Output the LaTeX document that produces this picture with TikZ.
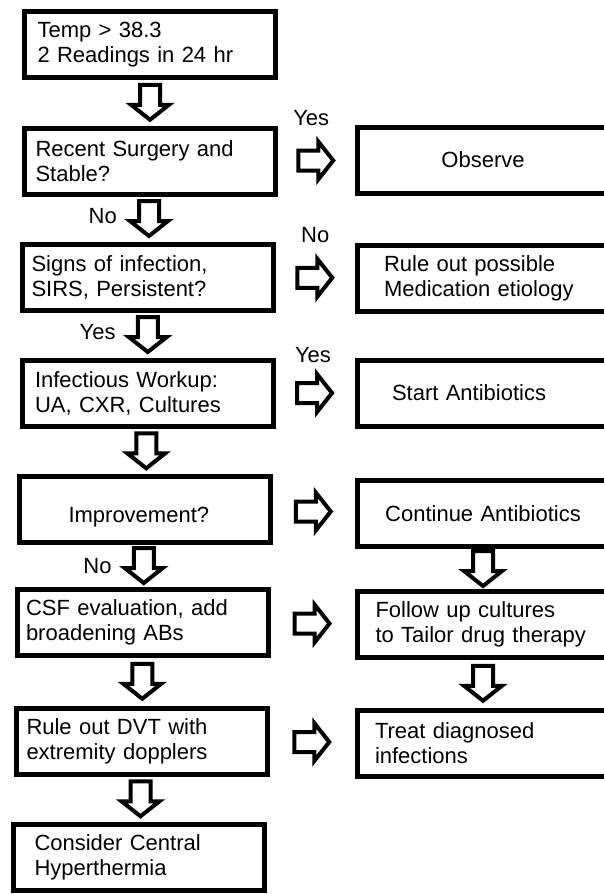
\documentclass[tikz,border=0pt]{standalone}
\usepackage{fontspec}
\setmainfont{Liberation Sans}
\usetikzlibrary{calc}

\newcommand{\boxfont}{\fontsize{22pt}{25pt}\selectfont}

% block arrow pointing down, between two nodes
\newcommand{\dnarrow}[2]{%
    \coordinate (#1-#2) at ($(#1.south)!0.5!(#2.north)$);
    \draw[blockarrow, shift={(#1-#2)}] (-10,-18) -- (10,-18) -- (10,2) -- (19,2) -- (0,17) -- (-19,2) -- (-10,2) -- cycle;
}
% block arrow pointing right, between two nodes
\newcommand{\rtarrow}[2]{%
    \coordinate (#1-#2) at ($(#1.east)!0.5!(#2.west)$);
    \draw[blockarrow, shift={(#1-#2)}] (-18,-10) -- (2,-10) -- (2,-19) -- (17,0) -- (2,19) -- (2,10) -- (-18,10) -- cycle;
}

\begin{document}
\begin{tikzpicture}[x=1pt, y=-1pt,
    lbox/.style={draw, line width=5pt, minimum width=251pt, minimum height=66pt, inner sep=0pt, align=left, text width=#1, font=\boxfont},
    lbox/.default=225pt,
    rbox/.style={draw, line width=5pt, minimum width=252pt, minimum height=66pt, inner sep=0pt, align=left, text width=#1, font=\boxfont},
    blockarrow/.style={draw, fill=white, line width=4pt, line join=miter},
    lbl/.style={inner sep=0pt, font=\boxfont}]

            \useasboundingbox (0,0) rectangle (603,894);

            % left column
            \node[lbox] (temp) at (150,44.5) {Temp > 38.3\\2 Readings in 24 hr};
            \node[lbox=229pt] (surg) at (150,161) {Recent Surgery and\\Stable?};
            \node[lbox=233pt] (sign) at (148,277) {Signs of infection,\\SIRS, Persistent?};
            \node[lbox] (work) at (147.5,393) {Infectious Workup:\\UA, CXR, Cultures};
            \node[lbox=153pt, text height=25pt, text depth=0pt] (impr) at (145,509.5) {Improvement?};
            \node[lbox=233pt] (csf) at (142.5,622.5) {CSF evaluation, add\\broadening ABs};
            \node[lbox=231pt] (dvt) at (142,741) {Rule out DVT with\\extremity dopplers};
            \node[lbox=209pt] (cent) at (139,857.5) {Consider Central\\Hyperthermia};

            % right column
            \node[rbox=240pt, align=center] (obs) at (483,160) {Observe};
            \node[rbox=198pt] (med) at (483,278.5) {Rule out possible\\Medication etiology};
            \node[rbox=182pt] (start) at (483,393) {Start Antibiotics};
            \node[rbox=240pt, align=center] (cont) at (483,513.5) {Continue Antibiotics};
            \node[rbox=215pt] (foll) at (483,624.5) {Follow up cultures\\to Tailor drug therapy};
            \node[rbox=216pt] (treat) at (483,743) {Treat diagnosed\\infections};

            \foreach \a/\b in {temp/surg, surg/sign, sign/work, work/impr, impr/csf, csf/dvt, dvt/cent, cont/foll, foll/treat}
            {
                \dnarrow{\a}{\b}
            }
            \foreach \a/\b in {surg/obs, sign/med, work/start, impr/cont, csf/foll, dvt/treat}
            {
                \rtarrow{\a}{\b}
            }

            % answers
            \node[lbl, anchor=base] (yes1) at ($(surg-obs)+(-5,-35)$) {Yes};
            \node[lbl, anchor=base] (no1) at ($(sign-med)+(0,-35)$) {No};
            \node[lbl, anchor=base] (yes2) at ($(work-start)+(-2,-31)$) {Yes};
            \node[lbl, anchor=base east] (no2) at ($(surg-sign)+(-32,4)$) {No};
            \node[lbl, anchor=base east] (yes3) at ($(sign-work)+(-32,4)$) {Yes};
            \node[lbl, anchor=base east] (no3) at ($(impr-csf)+(-32,7)$) {No};
        \end{tikzpicture}
\end{document}
